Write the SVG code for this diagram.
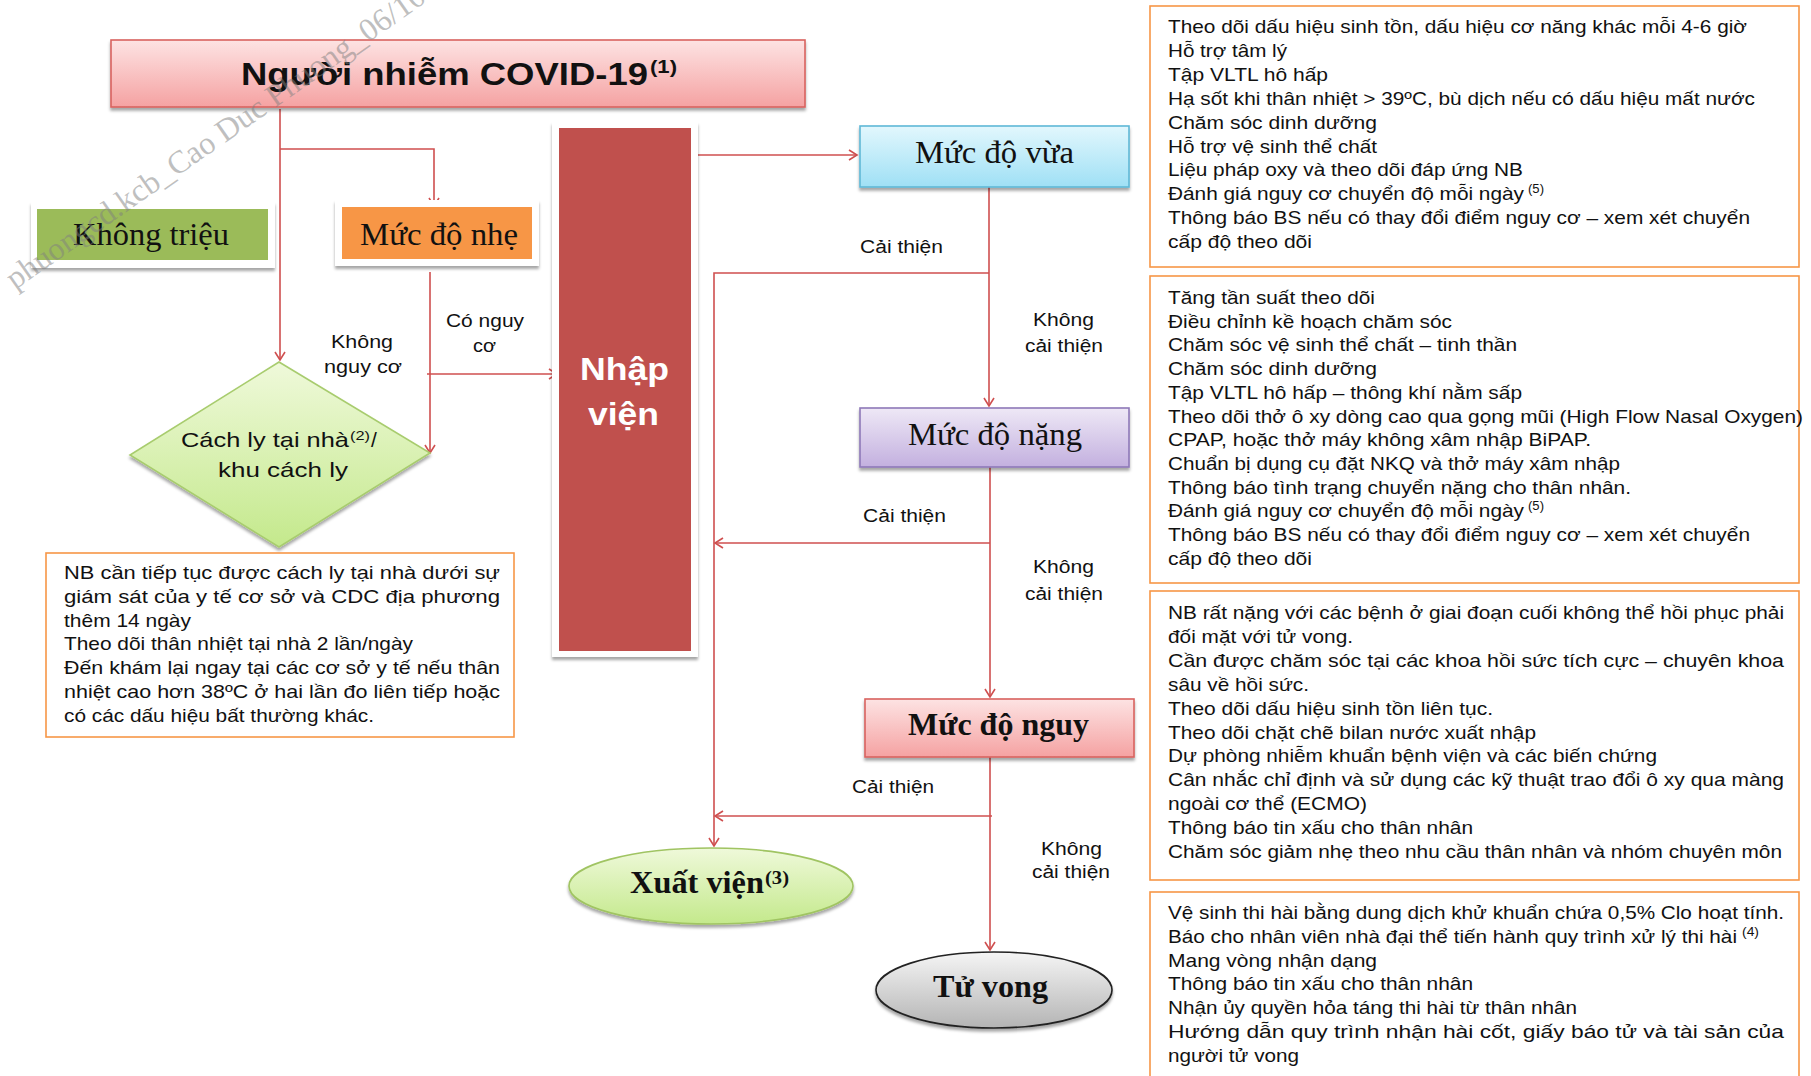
<svg xmlns="http://www.w3.org/2000/svg" width="1811" height="1076" viewBox="0 0 1811 1076">
<style>
.bx{font-family:"Liberation Sans",Arial,sans-serif;font-size:18.5px;fill:#111}
.lb{font-family:"Liberation Sans",Arial,sans-serif;font-size:18px;fill:#111}
.sr{font-family:"Liberation Serif","Times New Roman",serif;font-size:31px;fill:#111}
.srb{font-family:"Liberation Serif","Times New Roman",serif;font-size:31px;font-weight:bold;fill:#111}
.sup{font-family:"Liberation Sans",Arial,sans-serif;font-size:12px;fill:#111}
.note{fill:#fff;stroke:#f79646;stroke-width:1.6}
.conn{fill:none;stroke:#cf4f4f;stroke-width:1.6}
</style>
<defs>
<linearGradient id="gPink" x1="0" y1="0" x2="0" y2="1"><stop offset="0" stop-color="#fde3e3"/><stop offset="1" stop-color="#f5a2a2"/></linearGradient>
<linearGradient id="gBlue" x1="0" y1="0" x2="0" y2="1"><stop offset="0" stop-color="#e2f7fd"/><stop offset="1" stop-color="#9fe0f5"/></linearGradient>
<linearGradient id="gPurple" x1="0" y1="0" x2="0" y2="1"><stop offset="0" stop-color="#eee8f6"/><stop offset="1" stop-color="#c3b0df"/></linearGradient>
<linearGradient id="gGreen" x1="0" y1="0" x2="0" y2="1"><stop offset="0" stop-color="#eff9da"/><stop offset="1" stop-color="#c4e98c"/></linearGradient>
<linearGradient id="gGrey" x1="0" y1="0" x2="0" y2="1"><stop offset="0" stop-color="#f5f5f5"/><stop offset="1" stop-color="#b4b4b4"/></linearGradient>
<filter id="sh" x="-10%" y="-10%" width="120%" height="140%"><feDropShadow dx="0" dy="3" stdDeviation="1.5" flood-color="#000" flood-opacity="0.35"/></filter>
<marker id="ah" markerWidth="12" markerHeight="12" refX="10" refY="6" orient="auto" markerUnits="userSpaceOnUse"><path d="M2,1 L10,6 L2,11" fill="none" stroke="#cf4f4f" stroke-width="1.6"/></marker>
</defs>
<rect width="1811" height="1076" fill="#fff"/>

<g id="connectors">
<path class="conn" d="M280,109 V360" marker-end="url(#ah)"/>
<path class="conn" d="M280,149 H434 V206" marker-end="url(#ah)"/>
<path class="conn" d="M430,272 V453" marker-end="url(#ah)"/>
<path class="conn" d="M427,374 H557" marker-end="url(#ah)"/>
<path class="conn" d="M696,155 H857" marker-end="url(#ah)"/>
<path class="conn" d="M989,187 V406" marker-end="url(#ah)"/>
<path class="conn" d="M989,273 H714 V846" marker-end="url(#ah)"/>
<path class="conn" d="M990,467 V697" marker-end="url(#ah)"/>
<path class="conn" d="M990,543 H715" marker-end="url(#ah)"/>
<path class="conn" d="M990,757 V950" marker-end="url(#ah)"/>
<path class="conn" d="M992,816 H715" marker-end="url(#ah)"/>
<text class="lb" x="331" y="348" textLength="62" lengthAdjust="spacingAndGlyphs">Không</text>
<text class="lb" x="324" y="373" textLength="78" lengthAdjust="spacingAndGlyphs">nguy cơ</text>
<text class="lb" x="446" y="327" textLength="78" lengthAdjust="spacingAndGlyphs">Có nguy</text>
<text class="lb" x="473" y="352" textLength="23" lengthAdjust="spacingAndGlyphs">cơ</text>
<text class="lb" x="860" y="253" textLength="83" lengthAdjust="spacingAndGlyphs">Cải thiện</text>
<text class="lb" x="1033" y="326" textLength="61" lengthAdjust="spacingAndGlyphs">Không</text>
<text class="lb" x="1025" y="352" textLength="78" lengthAdjust="spacingAndGlyphs">cải thiện</text>
<text class="lb" x="863" y="522" textLength="83" lengthAdjust="spacingAndGlyphs">Cải thiện</text>
<text class="lb" x="1033" y="573" textLength="61" lengthAdjust="spacingAndGlyphs">Không</text>
<text class="lb" x="1025" y="600" textLength="78" lengthAdjust="spacingAndGlyphs">cải thiện</text>
<text class="lb" x="852" y="793" textLength="82" lengthAdjust="spacingAndGlyphs">Cải thiện</text>
<text class="lb" x="1041" y="855" textLength="61" lengthAdjust="spacingAndGlyphs">Không</text>
<text class="lb" x="1032" y="878" textLength="78" lengthAdjust="spacingAndGlyphs">cải thiện</text>
</g>

<g id="title">
<rect x="111" y="40" width="694" height="67" fill="url(#gPink)" stroke="#d9625f" stroke-width="1.6" filter="url(#sh)"/>
<text x="241" y="85" font-family="Liberation Sans,Arial,sans-serif" font-size="32" font-weight="bold" fill="#111" textLength="407" lengthAdjust="spacingAndGlyphs">Người nhiễm COVID-19</text>
<text x="650" y="73" font-family="Liberation Sans,Arial,sans-serif" font-size="19" font-weight="bold" fill="#111" textLength="27" lengthAdjust="spacingAndGlyphs">(1)</text>
</g>

<g id="khong-trieu">
<rect x="31" y="202" width="244" height="66" fill="#fff" filter="url(#sh)"/>
<rect x="37" y="209" width="231" height="51" fill="#9bbb59"/>
<text class="sr" x="73" y="245" textLength="156" lengthAdjust="spacingAndGlyphs">Không triệu</text>
</g>

<g id="muc-do-nhe">
<rect x="335" y="200" width="204" height="66" fill="#fff" filter="url(#sh)"/>
<rect x="342" y="207" width="190" height="52" fill="#f79646"/>
<text class="sr" x="360" y="245" textLength="158" lengthAdjust="spacingAndGlyphs">Mức độ nhẹ</text>
</g>

<g id="nhap-vien">
<rect x="552" y="122" width="146" height="535" fill="#fff" filter="url(#sh)"/>
<rect x="559" y="128" width="132" height="523" fill="#c0504d"/>
<text x="580" y="380" font-family="Liberation Sans,Arial,sans-serif" font-size="32" font-weight="bold" fill="#fff" textLength="89" lengthAdjust="spacingAndGlyphs">Nhập</text>
<text x="588" y="425" font-family="Liberation Sans,Arial,sans-serif" font-size="32" font-weight="bold" fill="#fff" textLength="71" lengthAdjust="spacingAndGlyphs">viện</text>
</g>

<g id="cach-ly">
<polygon points="279,362 430,453 279,547 130,455" fill="url(#gGreen)" stroke="#a8cc6e" stroke-width="1.6" filter="url(#sh)"/>
<text x="181" y="447" font-family="Liberation Sans,Arial,sans-serif" font-size="21" fill="#111" textLength="168" lengthAdjust="spacingAndGlyphs">Cách ly tại nhà</text>
<text x="350" y="440" font-family="Liberation Sans,Arial,sans-serif" font-size="13" fill="#111" textLength="20" lengthAdjust="spacingAndGlyphs">(2)</text>
<text x="371" y="447" font-family="Liberation Sans,Arial,sans-serif" font-size="21" fill="#111">/</text>
<text x="218" y="477" font-family="Liberation Sans,Arial,sans-serif" font-size="21" fill="#111" textLength="130" lengthAdjust="spacingAndGlyphs">khu cách ly</text>
</g>

<g id="note-cach-ly">
<rect class="note" x="46" y="553" width="468" height="184"/>
<text class="bx" x="64" y="579" textLength="436" lengthAdjust="spacingAndGlyphs">NB cần tiếp tục được cách ly tại nhà dưới sự</text>
<text class="bx" x="64" y="603" textLength="436" lengthAdjust="spacingAndGlyphs">giám sát của y tế cơ sở và CDC địa phương</text>
<text class="bx" x="64" y="627" textLength="127" lengthAdjust="spacingAndGlyphs">thêm 14 ngày</text>
<text class="bx" x="64" y="650" textLength="349" lengthAdjust="spacingAndGlyphs">Theo dõi thân nhiệt tại nhà 2 lần/ngày</text>
<text class="bx" x="64" y="674" textLength="436" lengthAdjust="spacingAndGlyphs">Đến khám lại ngay tại các cơ sở y tế nếu thân</text>
<text class="bx" x="64" y="698" textLength="436" lengthAdjust="spacingAndGlyphs">nhiệt cao hơn 38ºC ở hai lần đo liên tiếp hoặc</text>
<text class="bx" x="64" y="722" textLength="310" lengthAdjust="spacingAndGlyphs">có các dấu hiệu bất thường khác.</text>
</g>

<g id="muc-do-vua">
<rect x="860" y="126" width="269" height="61" fill="url(#gBlue)" stroke="#5fb8d6" stroke-width="1.6" filter="url(#sh)"/>
<text class="sr" x="915" y="163" textLength="159" lengthAdjust="spacingAndGlyphs">Mức độ vừa</text>
</g>

<g id="muc-do-nang">
<rect x="860" y="408" width="269" height="59" fill="url(#gPurple)" stroke="#8e79b8" stroke-width="1.6" filter="url(#sh)"/>
<text class="sr" x="908" y="445" textLength="174" lengthAdjust="spacingAndGlyphs">Mức độ nặng</text>
</g>

<g id="muc-do-nguy">
<rect x="865" y="699" width="269" height="58" fill="url(#gPink)" stroke="#d9625f" stroke-width="1.6" filter="url(#sh)"/>
<text class="srb" x="908" y="735" textLength="181" lengthAdjust="spacingAndGlyphs">Mức độ nguy</text>
</g>

<g id="xuat-vien">
<ellipse cx="711" cy="886" rx="142" ry="38" fill="url(#gGreen)" stroke="#a0c462" stroke-width="1.6" filter="url(#sh)"/>
<text class="srb" x="630" y="893" textLength="134" lengthAdjust="spacingAndGlyphs">Xuất viện</text>
<text x="765" y="884" font-family="Liberation Serif,Times New Roman,serif" font-size="19" font-weight="bold" fill="#111" textLength="24" lengthAdjust="spacingAndGlyphs">(3)</text>
</g>

<g id="tu-vong">
<ellipse cx="994" cy="990" rx="118" ry="38" fill="url(#gGrey)" stroke="#222" stroke-width="1.6" filter="url(#sh)"/>
<text class="srb" x="933" y="997" textLength="115" lengthAdjust="spacingAndGlyphs">Tử vong</text>
</g>

<g id="note-vua">
<rect class="note" x="1150" y="6" width="649" height="261"/>
<text class="bx" x="1168" y="33" textLength="579" lengthAdjust="spacingAndGlyphs">Theo dõi dấu hiệu sinh tồn, dấu hiệu cơ năng khác mỗi 4-6 giờ</text>
<text class="bx" x="1168" y="56.9" textLength="119" lengthAdjust="spacingAndGlyphs">Hỗ trợ tâm lý</text>
<text class="bx" x="1168" y="80.8" textLength="160" lengthAdjust="spacingAndGlyphs">Tập VLTL hô hấp</text>
<text class="bx" x="1168" y="104.7" textLength="587" lengthAdjust="spacingAndGlyphs">Hạ sốt khi thân nhiệt &gt; 39ºC, bù dịch nếu có dấu hiệu mất nước</text>
<text class="bx" x="1168" y="128.6" textLength="209" lengthAdjust="spacingAndGlyphs">Chăm sóc dinh dưỡng</text>
<text class="bx" x="1168" y="152.5" textLength="209" lengthAdjust="spacingAndGlyphs">Hỗ trợ vệ sinh thể chất</text>
<text class="bx" x="1168" y="176.4" textLength="355" lengthAdjust="spacingAndGlyphs">Liệu pháp oxy và theo dõi đáp ứng NB</text>
<text class="bx" x="1168" y="200.3" textLength="356" lengthAdjust="spacingAndGlyphs">Đánh giá nguy cơ chuyển độ mỗi ngày</text>
<text class="sup" x="1528" y="193" textLength="16" lengthAdjust="spacingAndGlyphs">(5)</text>
<text class="bx" x="1168" y="224.2" textLength="582" lengthAdjust="spacingAndGlyphs">Thông báo BS nếu có thay đổi điểm nguy cơ – xem xét chuyển</text>
<text class="bx" x="1168" y="248.1" textLength="144" lengthAdjust="spacingAndGlyphs">cấp độ theo dõi</text>
</g>

<g id="note-nang">
<rect class="note" x="1150" y="276" width="649" height="307"/>
<text class="bx" x="1168" y="304" textLength="207" lengthAdjust="spacingAndGlyphs">Tăng tần suất theo dõi</text>
<text class="bx" x="1168" y="327.7" textLength="284" lengthAdjust="spacingAndGlyphs">Điều chỉnh kề hoạch chăm sóc</text>
<text class="bx" x="1168" y="351.4" textLength="349" lengthAdjust="spacingAndGlyphs">Chăm sóc vệ sinh thể chất – tinh thần</text>
<text class="bx" x="1168" y="375.1" textLength="209" lengthAdjust="spacingAndGlyphs">Chăm sóc dinh dưỡng</text>
<text class="bx" x="1168" y="398.8" textLength="354" lengthAdjust="spacingAndGlyphs">Tập VLTL hô hấp – thông khí nằm sấp</text>
<text class="bx" x="1168" y="422.5" textLength="635" lengthAdjust="spacingAndGlyphs">Theo dõi thở ô xy dòng cao qua gọng mũi (High Flow Nasal Oxygen)</text>
<text class="bx" x="1168" y="446.2" textLength="423" lengthAdjust="spacingAndGlyphs">CPAP, hoặc thở máy không xâm nhập BiPAP.</text>
<text class="bx" x="1168" y="469.9" textLength="452" lengthAdjust="spacingAndGlyphs">Chuẩn bị dụng cụ đặt NKQ và thở máy xâm nhập</text>
<text class="bx" x="1168" y="493.6" textLength="463" lengthAdjust="spacingAndGlyphs">Thông báo tình trạng chuyển nặng cho thân nhân.</text>
<text class="bx" x="1168" y="517.3" textLength="356" lengthAdjust="spacingAndGlyphs">Đánh giá nguy cơ chuyển độ mỗi ngày</text>
<text class="sup" x="1528" y="510" textLength="16" lengthAdjust="spacingAndGlyphs">(5)</text>
<text class="bx" x="1168" y="541" textLength="582" lengthAdjust="spacingAndGlyphs">Thông báo BS nếu có thay đổi điểm nguy cơ – xem xét chuyển</text>
<text class="bx" x="1168" y="564.7" textLength="144" lengthAdjust="spacingAndGlyphs">cấp độ theo dõi</text>
</g>

<g id="note-nguy">
<rect class="note" x="1150" y="591" width="649" height="289"/>
<text class="bx" x="1168" y="619" textLength="616" lengthAdjust="spacingAndGlyphs">NB rất nặng với các bệnh ở giai đoạn cuối không thể hồi phục phải</text>
<text class="bx" x="1168" y="642.9" textLength="185" lengthAdjust="spacingAndGlyphs">đối mặt với tử vong.</text>
<text class="bx" x="1168" y="666.8" textLength="616" lengthAdjust="spacingAndGlyphs">Cần được chăm sóc tại các khoa hồi sức tích cực – chuyên khoa</text>
<text class="bx" x="1168" y="690.7" textLength="141" lengthAdjust="spacingAndGlyphs">sâu về hồi sức.</text>
<text class="bx" x="1168" y="714.6" textLength="325" lengthAdjust="spacingAndGlyphs">Theo dõi dấu hiệu sinh tồn liên tục.</text>
<text class="bx" x="1168" y="738.5" textLength="368" lengthAdjust="spacingAndGlyphs">Theo dõi chặt chẽ bilan nước xuất nhập</text>
<text class="bx" x="1168" y="762.4" textLength="489" lengthAdjust="spacingAndGlyphs">Dự phòng nhiễm khuẩn bệnh viện và các biến chứng</text>
<text class="bx" x="1168" y="786.3" textLength="616" lengthAdjust="spacingAndGlyphs">Cân nhắc chỉ định và sử dụng các kỹ thuật trao đổi ô xy qua màng</text>
<text class="bx" x="1168" y="810.2" textLength="199" lengthAdjust="spacingAndGlyphs">ngoài cơ thể (ECMO)</text>
<text class="bx" x="1168" y="834.1" textLength="305" lengthAdjust="spacingAndGlyphs">Thông báo tin xấu cho thân nhân</text>
<text class="bx" x="1168" y="858" textLength="614" lengthAdjust="spacingAndGlyphs">Chăm sóc giảm nhẹ theo nhu cầu thân nhân và nhóm chuyên môn</text>
</g>

<g id="note-tu-vong">
<rect class="note" x="1150" y="892" width="649" height="200"/>
<text class="bx" x="1168" y="919" textLength="616" lengthAdjust="spacingAndGlyphs">Vệ sinh thi hài bằng dung dịch khử khuẩn chứa 0,5% Clo hoạt tính.</text>
<text class="bx" x="1168" y="942.8" textLength="569" lengthAdjust="spacingAndGlyphs">Báo cho nhân viên nhà đại thể tiến hành quy trình xử lý thi hài</text>
<text class="sup" x="1742" y="936" textLength="17" lengthAdjust="spacingAndGlyphs">(4)</text>
<text class="bx" x="1168" y="966.6" textLength="209" lengthAdjust="spacingAndGlyphs">Mang vòng nhận dạng</text>
<text class="bx" x="1168" y="990.4" textLength="305" lengthAdjust="spacingAndGlyphs">Thông báo tin xấu cho thân nhân</text>
<text class="bx" x="1168" y="1014.2" textLength="409" lengthAdjust="spacingAndGlyphs">Nhận ủy quyền hỏa táng thi hài từ thân nhân</text>
<text class="bx" x="1168" y="1038" textLength="616" lengthAdjust="spacingAndGlyphs">Hướng dẫn quy trình nhận hài cốt, giấy báo tử và tài sản của</text>
<text class="bx" x="1168" y="1061.8" textLength="131" lengthAdjust="spacingAndGlyphs">người tử vong</text>
</g>

<text transform="translate(15,290) rotate(-35)" font-family="Liberation Serif,Times New Roman,serif" font-size="32" fill="#808080" fill-opacity="0.5">phuongcd.kcb_Cao Duc Phuong_06/10</text>
</svg>
